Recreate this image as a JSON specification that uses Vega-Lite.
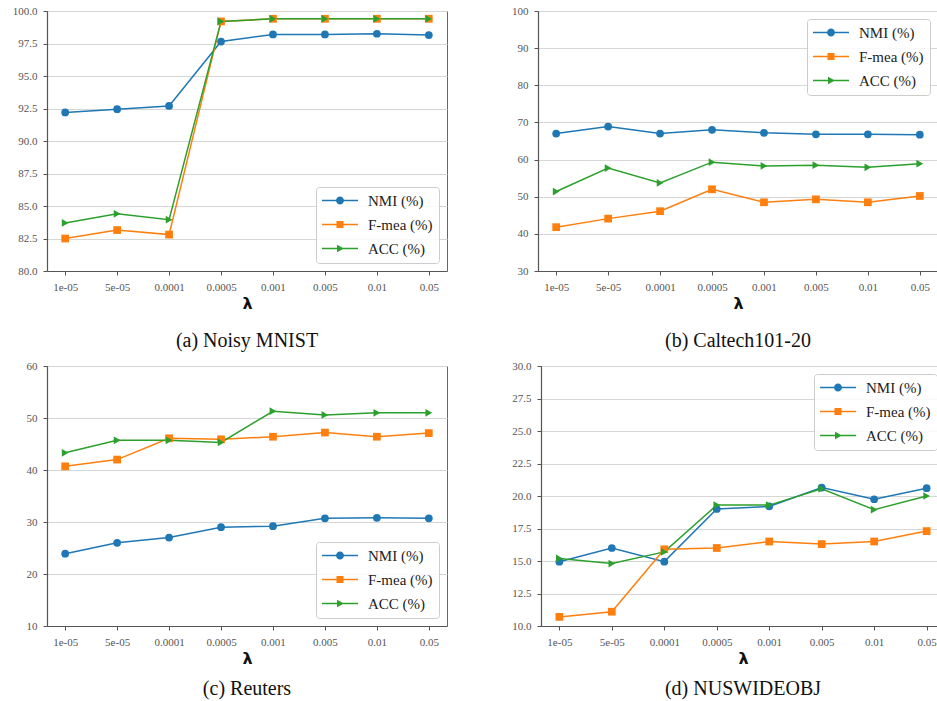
{
  "$schema": "https://vega.github.io/schema/vega-lite/v6.json",
  "padding": {"left": 11, "top": 4, "right": 0, "bottom": 0},
  "background": "white",
  "config": {
    "view": {"stroke": "#666666", "strokeWidth": 1},
    "axis": {
      "labelFont": "Times New Roman, Liberation Serif, serif", "labelFontSize": 11, "labelColor": "#555555",
      "tickColor": "#555555", "tickSize": 4, "labelPadding": 6,
      "domainColor": "#555555", "domainWidth": 1.2,
      "gridColor": "#d6d6d6", "gridWidth": 1,
      "titleFont": "DejaVu Sans", "titleFontSize": 16, "titleFontWeight": "bold", "titleColor": "#111111"
    },
    "axisX": {"grid": false, "labelAngle": 0, "titlePadding": 3},
    "axisY": {"grid": true},
    "title": {"orient": "bottom", "font": "Times New Roman, Liberation Serif, serif", "fontSize": 20, "fontWeight": "normal", "color": "#111111", "offset": 17, "anchor": "middle"}
  },
  "datasets": {
    "t": [
      {"p": "a", "l": "1e-05", "m": "NMI (%)", "v": 92.2},
      {"p": "a", "l": "5e-05", "m": "NMI (%)", "v": 92.45},
      {"p": "a", "l": "0.0001", "m": "NMI (%)", "v": 92.7},
      {"p": "a", "l": "0.0005", "m": "NMI (%)", "v": 97.65},
      {"p": "a", "l": "0.001", "m": "NMI (%)", "v": 98.2},
      {"p": "a", "l": "0.005", "m": "NMI (%)", "v": 98.2},
      {"p": "a", "l": "0.01", "m": "NMI (%)", "v": 98.25},
      {"p": "a", "l": "0.05", "m": "NMI (%)", "v": 98.15},
      {"p": "a", "l": "1e-05", "m": "F-mea (%)", "v": 82.5},
      {"p": "a", "l": "5e-05", "m": "F-mea (%)", "v": 83.15},
      {"p": "a", "l": "0.0001", "m": "F-mea (%)", "v": 82.8},
      {"p": "a", "l": "0.0005", "m": "F-mea (%)", "v": 99.2},
      {"p": "a", "l": "0.001", "m": "F-mea (%)", "v": 99.4},
      {"p": "a", "l": "0.005", "m": "F-mea (%)", "v": 99.4},
      {"p": "a", "l": "0.01", "m": "F-mea (%)", "v": 99.4},
      {"p": "a", "l": "0.05", "m": "F-mea (%)", "v": 99.4},
      {"p": "a", "l": "1e-05", "m": "ACC (%)", "v": 83.7},
      {"p": "a", "l": "5e-05", "m": "ACC (%)", "v": 84.4},
      {"p": "a", "l": "0.0001", "m": "ACC (%)", "v": 83.95},
      {"p": "a", "l": "0.0005", "m": "ACC (%)", "v": 99.2},
      {"p": "a", "l": "0.001", "m": "ACC (%)", "v": 99.4},
      {"p": "a", "l": "0.005", "m": "ACC (%)", "v": 99.4},
      {"p": "a", "l": "0.01", "m": "ACC (%)", "v": 99.4},
      {"p": "a", "l": "0.05", "m": "ACC (%)", "v": 99.4},

      {"p": "b", "l": "1e-05", "m": "NMI (%)", "v": 67.0},
      {"p": "b", "l": "5e-05", "m": "NMI (%)", "v": 68.9},
      {"p": "b", "l": "0.0001", "m": "NMI (%)", "v": 67.0},
      {"p": "b", "l": "0.0005", "m": "NMI (%)", "v": 68.0},
      {"p": "b", "l": "0.001", "m": "NMI (%)", "v": 67.2},
      {"p": "b", "l": "0.005", "m": "NMI (%)", "v": 66.8},
      {"p": "b", "l": "0.01", "m": "NMI (%)", "v": 66.8},
      {"p": "b", "l": "0.05", "m": "NMI (%)", "v": 66.7},
      {"p": "b", "l": "1e-05", "m": "F-mea (%)", "v": 41.8},
      {"p": "b", "l": "5e-05", "m": "F-mea (%)", "v": 44.1},
      {"p": "b", "l": "0.0001", "m": "F-mea (%)", "v": 46.1},
      {"p": "b", "l": "0.0005", "m": "F-mea (%)", "v": 52.0},
      {"p": "b", "l": "0.001", "m": "F-mea (%)", "v": 48.5},
      {"p": "b", "l": "0.005", "m": "F-mea (%)", "v": 49.3},
      {"p": "b", "l": "0.01", "m": "F-mea (%)", "v": 48.5},
      {"p": "b", "l": "0.05", "m": "F-mea (%)", "v": 50.2},
      {"p": "b", "l": "1e-05", "m": "ACC (%)", "v": 51.4},
      {"p": "b", "l": "5e-05", "m": "ACC (%)", "v": 57.7},
      {"p": "b", "l": "0.0001", "m": "ACC (%)", "v": 53.7},
      {"p": "b", "l": "0.0005", "m": "ACC (%)", "v": 59.3},
      {"p": "b", "l": "0.001", "m": "ACC (%)", "v": 58.3},
      {"p": "b", "l": "0.005", "m": "ACC (%)", "v": 58.5},
      {"p": "b", "l": "0.01", "m": "ACC (%)", "v": 57.9},
      {"p": "b", "l": "0.05", "m": "ACC (%)", "v": 58.9},

      {"p": "c", "l": "1e-05", "m": "NMI (%)", "v": 23.9},
      {"p": "c", "l": "5e-05", "m": "NMI (%)", "v": 26.0},
      {"p": "c", "l": "0.0001", "m": "NMI (%)", "v": 27.0},
      {"p": "c", "l": "0.0005", "m": "NMI (%)", "v": 29.0},
      {"p": "c", "l": "0.001", "m": "NMI (%)", "v": 29.2},
      {"p": "c", "l": "0.005", "m": "NMI (%)", "v": 30.7},
      {"p": "c", "l": "0.01", "m": "NMI (%)", "v": 30.8},
      {"p": "c", "l": "0.05", "m": "NMI (%)", "v": 30.7},
      {"p": "c", "l": "1e-05", "m": "F-mea (%)", "v": 40.7},
      {"p": "c", "l": "5e-05", "m": "F-mea (%)", "v": 42.0},
      {"p": "c", "l": "0.0001", "m": "F-mea (%)", "v": 46.1},
      {"p": "c", "l": "0.0005", "m": "F-mea (%)", "v": 45.9},
      {"p": "c", "l": "0.001", "m": "F-mea (%)", "v": 46.4},
      {"p": "c", "l": "0.005", "m": "F-mea (%)", "v": 47.2},
      {"p": "c", "l": "0.01", "m": "F-mea (%)", "v": 46.4},
      {"p": "c", "l": "0.05", "m": "F-mea (%)", "v": 47.1},
      {"p": "c", "l": "1e-05", "m": "ACC (%)", "v": 43.3},
      {"p": "c", "l": "5e-05", "m": "ACC (%)", "v": 45.7},
      {"p": "c", "l": "0.0001", "m": "ACC (%)", "v": 45.7},
      {"p": "c", "l": "0.0005", "m": "ACC (%)", "v": 45.3},
      {"p": "c", "l": "0.001", "m": "ACC (%)", "v": 51.3},
      {"p": "c", "l": "0.005", "m": "ACC (%)", "v": 50.6},
      {"p": "c", "l": "0.01", "m": "ACC (%)", "v": 51.0},
      {"p": "c", "l": "0.05", "m": "ACC (%)", "v": 51.0},

      {"p": "d", "l": "1e-05", "m": "NMI (%)", "v": 14.95},
      {"p": "d", "l": "5e-05", "m": "NMI (%)", "v": 16.0},
      {"p": "d", "l": "0.0001", "m": "NMI (%)", "v": 14.95},
      {"p": "d", "l": "0.0005", "m": "NMI (%)", "v": 19.0},
      {"p": "d", "l": "0.001", "m": "NMI (%)", "v": 19.2},
      {"p": "d", "l": "0.005", "m": "NMI (%)", "v": 20.65},
      {"p": "d", "l": "0.01", "m": "NMI (%)", "v": 19.75},
      {"p": "d", "l": "0.05", "m": "NMI (%)", "v": 20.6},
      {"p": "d", "l": "1e-05", "m": "F-mea (%)", "v": 10.7},
      {"p": "d", "l": "5e-05", "m": "F-mea (%)", "v": 11.1},
      {"p": "d", "l": "0.0001", "m": "F-mea (%)", "v": 15.9},
      {"p": "d", "l": "0.0005", "m": "F-mea (%)", "v": 16.0},
      {"p": "d", "l": "0.001", "m": "F-mea (%)", "v": 16.5},
      {"p": "d", "l": "0.005", "m": "F-mea (%)", "v": 16.3},
      {"p": "d", "l": "0.01", "m": "F-mea (%)", "v": 16.5},
      {"p": "d", "l": "0.05", "m": "F-mea (%)", "v": 17.3},
      {"p": "d", "l": "1e-05", "m": "ACC (%)", "v": 15.2},
      {"p": "d", "l": "5e-05", "m": "ACC (%)", "v": 14.8},
      {"p": "d", "l": "0.0001", "m": "ACC (%)", "v": 15.7},
      {"p": "d", "l": "0.0005", "m": "ACC (%)", "v": 19.3},
      {"p": "d", "l": "0.001", "m": "ACC (%)", "v": 19.3},
      {"p": "d", "l": "0.005", "m": "ACC (%)", "v": 20.55},
      {"p": "d", "l": "0.01", "m": "ACC (%)", "v": 18.95},
      {"p": "d", "l": "0.05", "m": "ACC (%)", "v": 20.0}
    ]
  },
  "vconcat": [
    {
      "hconcat": [
        {
          "data": {"name": "t"},
          "width": 400, "height": 260,
          "title": {"text": "(a) Noisy MNIST", "offset": 20},
          "transform": [{"filter": "datum.p == 'a'"}],
          "encoding": {
            "x": {"field": "l", "type": "ordinal", "sort": ["1e-05", "5e-05", "0.0001", "0.0005", "0.001", "0.005", "0.01", "0.05"], "scale": {"type": "point", "padding": 0.35}, "axis": {"title": "λ"}},
            "y": {"field": "v", "type": "quantitative", "scale": {"domain": [80, 100], "nice": false, "zero": false}, "axis": {"title": null, "values": [80, 82.5, 85, 87.5, 90, 92.5, 95, 97.5, 100], "format": ".1f"}},
            "color": {"field": "m", "type": "nominal", "scale": {"domain": ["NMI (%)", "F-mea (%)", "ACC (%)"], "range": ["#1f77b4", "#ff7f0e", "#2ca02c"]},
              "legend": {"title": null, "orient": "bottom-right", "offset": 8, "fillColor": "rgba(255,255,255,0.85)", "strokeColor": "#cccccc", "cornerRadius": 3, "padding": 6, "rowPadding": 8, "labelFont": "Times New Roman, Liberation Serif, serif", "labelFontSize": 15, "labelColor": "#222222", "labelAlign": "left", "symbolSize": 100, "symbolOffset": 13, "labelOffset": 36, "symbolStrokeWidth": 0,
                "encode": {
                  "labels": {"update": {"align": {"value": "left"}, "x": {"value": 46}}},
                  "symbols": {"update": {
                  "shape": {"signal": "datum.value == 'NMI (%)' ? 'M-3.6,-0.15H3.6V0.15H-3.6Z M0.8,0A0.8,0.8 0 1,1 -0.8,0A0.8,0.8 0 1,1 0.8,0Z' : datum.value == 'F-mea (%)' ? 'M-3.6,-0.15H3.6V0.15H-3.6Z M-0.7,-0.7H0.7V0.7H-0.7Z' : 'M-3.6,-0.15H3.6V0.15H-3.6Z M-0.6,-0.75L0.8,0L-0.6,0.75Z'"},
                  "fill": {"signal": "datum.value == 'NMI (%)' ? '#1f77b4' : datum.value == 'F-mea (%)' ? '#ff7f0e' : '#2ca02c'"},
                  "stroke": {"value": "transparent"},
                  "x": {"value": 18},
                  "opacity": {"value": 1}}}}}}
          },
          "layer": [
            {"mark": {"type": "line", "strokeWidth": 1.5}},
            {"mark": {"type": "point", "filled": true, "size": 60, "opacity": 1}, "encoding": {"shape": {"field": "m", "type": "nominal", "scale": {"domain": ["NMI (%)", "F-mea (%)", "ACC (%)"], "range": ["circle", "square", "triangle-right"]}, "legend": null}}}
          ]
        },
        {
          "data": {"name": "t"},
          "width": 400, "height": 260,
          "title": {"text": "(b) Caltech101-20", "offset": 20},
          "transform": [{"filter": "datum.p == 'b'"}],
          "encoding": {
            "x": {"field": "l", "type": "ordinal", "sort": ["1e-05", "5e-05", "0.0001", "0.0005", "0.001", "0.005", "0.01", "0.05"], "scale": {"type": "point", "padding": 0.35}, "axis": {"title": "λ"}},
            "y": {"field": "v", "type": "quantitative", "scale": {"domain": [30, 100], "nice": false, "zero": false}, "axis": {"title": null, "values": [30, 40, 50, 60, 70, 80, 90, 100]}},
            "color": {"field": "m", "type": "nominal", "scale": {"domain": ["NMI (%)", "F-mea (%)", "ACC (%)"], "range": ["#1f77b4", "#ff7f0e", "#2ca02c"]},
              "legend": {"title": null, "orient": "top-right", "offset": 8, "fillColor": "rgba(255,255,255,0.85)", "strokeColor": "#cccccc", "cornerRadius": 3, "padding": 6, "rowPadding": 8, "labelFont": "Times New Roman, Liberation Serif, serif", "labelFontSize": 15, "labelColor": "#222222", "labelAlign": "left", "symbolSize": 100, "symbolOffset": 13, "labelOffset": 36, "symbolStrokeWidth": 0,
                "encode": {
                  "labels": {"update": {"align": {"value": "left"}, "x": {"value": 46}}},
                  "symbols": {"update": {
                  "shape": {"signal": "datum.value == 'NMI (%)' ? 'M-3.6,-0.15H3.6V0.15H-3.6Z M0.8,0A0.8,0.8 0 1,1 -0.8,0A0.8,0.8 0 1,1 0.8,0Z' : datum.value == 'F-mea (%)' ? 'M-3.6,-0.15H3.6V0.15H-3.6Z M-0.7,-0.7H0.7V0.7H-0.7Z' : 'M-3.6,-0.15H3.6V0.15H-3.6Z M-0.6,-0.75L0.8,0L-0.6,0.75Z'"},
                  "fill": {"signal": "datum.value == 'NMI (%)' ? '#1f77b4' : datum.value == 'F-mea (%)' ? '#ff7f0e' : '#2ca02c'"},
                  "stroke": {"value": "transparent"},
                  "x": {"value": 18},
                  "opacity": {"value": 1}}}}}}
          },
          "layer": [
            {"mark": {"type": "line", "strokeWidth": 1.5}},
            {"mark": {"type": "point", "filled": true, "size": 60, "opacity": 1}, "encoding": {"shape": {"field": "m", "type": "nominal", "scale": {"domain": ["NMI (%)", "F-mea (%)", "ACC (%)"], "range": ["circle", "square", "triangle-right"]}, "legend": null}}}
          ]
        }
      ],
      "spacing": 63
    },
    {
      "hconcat": [
        {
          "data": {"name": "t"},
          "width": 400, "height": 260,
          "title": {"text": "(c) Reuters", "offset": 13},
          "transform": [{"filter": "datum.p == 'c'"}],
          "encoding": {
            "x": {"field": "l", "type": "ordinal", "sort": ["1e-05", "5e-05", "0.0001", "0.0005", "0.001", "0.005", "0.01", "0.05"], "scale": {"type": "point", "padding": 0.35}, "axis": {"title": "λ"}},
            "y": {"field": "v", "type": "quantitative", "scale": {"domain": [10, 60], "nice": false, "zero": false}, "axis": {"title": null, "values": [10, 20, 30, 40, 50, 60]}},
            "color": {"field": "m", "type": "nominal", "scale": {"domain": ["NMI (%)", "F-mea (%)", "ACC (%)"], "range": ["#1f77b4", "#ff7f0e", "#2ca02c"]},
              "legend": {"title": null, "orient": "bottom-right", "offset": 8, "fillColor": "rgba(255,255,255,0.85)", "strokeColor": "#cccccc", "cornerRadius": 3, "padding": 6, "rowPadding": 8, "labelFont": "Times New Roman, Liberation Serif, serif", "labelFontSize": 15, "labelColor": "#222222", "labelAlign": "left", "symbolSize": 100, "symbolOffset": 13, "labelOffset": 36, "symbolStrokeWidth": 0,
                "encode": {
                  "labels": {"update": {"align": {"value": "left"}, "x": {"value": 46}}},
                  "symbols": {"update": {
                  "shape": {"signal": "datum.value == 'NMI (%)' ? 'M-3.6,-0.15H3.6V0.15H-3.6Z M0.8,0A0.8,0.8 0 1,1 -0.8,0A0.8,0.8 0 1,1 0.8,0Z' : datum.value == 'F-mea (%)' ? 'M-3.6,-0.15H3.6V0.15H-3.6Z M-0.7,-0.7H0.7V0.7H-0.7Z' : 'M-3.6,-0.15H3.6V0.15H-3.6Z M-0.6,-0.75L0.8,0L-0.6,0.75Z'"},
                  "fill": {"signal": "datum.value == 'NMI (%)' ? '#1f77b4' : datum.value == 'F-mea (%)' ? '#ff7f0e' : '#2ca02c'"},
                  "stroke": {"value": "transparent"},
                  "x": {"value": 18},
                  "opacity": {"value": 1}}}}}}
          },
          "layer": [
            {"mark": {"type": "line", "strokeWidth": 1.5}},
            {"mark": {"type": "point", "filled": true, "size": 60, "opacity": 1}, "encoding": {"shape": {"field": "m", "type": "nominal", "scale": {"domain": ["NMI (%)", "F-mea (%)", "ACC (%)"], "range": ["circle", "square", "triangle-right"]}, "legend": null}}}
          ]
        },
        {
          "data": {"name": "t"},
          "width": 404, "height": 260,
          "title": {"text": "(d) NUSWIDEOBJ", "offset": 13},
          "transform": [{"filter": "datum.p == 'd'"}],
          "encoding": {
            "x": {"field": "l", "type": "ordinal", "sort": ["1e-05", "5e-05", "0.0001", "0.0005", "0.001", "0.005", "0.01", "0.05"], "scale": {"type": "point", "padding": 0.35}, "axis": {"title": "λ"}},
            "y": {"field": "v", "type": "quantitative", "scale": {"domain": [10, 30], "nice": false, "zero": false}, "axis": {"title": null, "values": [10, 12.5, 15, 17.5, 20, 22.5, 25, 27.5, 30], "format": ".1f"}},
            "color": {"field": "m", "type": "nominal", "scale": {"domain": ["NMI (%)", "F-mea (%)", "ACC (%)"], "range": ["#1f77b4", "#ff7f0e", "#2ca02c"]},
              "legend": {"title": null, "orient": "top-right", "offset": 8, "fillColor": "rgba(255,255,255,0.85)", "strokeColor": "#cccccc", "cornerRadius": 3, "padding": 6, "rowPadding": 8, "labelFont": "Times New Roman, Liberation Serif, serif", "labelFontSize": 15, "labelColor": "#222222", "labelAlign": "left", "symbolSize": 100, "symbolOffset": 13, "labelOffset": 36, "symbolStrokeWidth": 0,
                "encode": {
                  "labels": {"update": {"align": {"value": "left"}, "x": {"value": 46}}},
                  "symbols": {"update": {
                  "shape": {"signal": "datum.value == 'NMI (%)' ? 'M-3.6,-0.15H3.6V0.15H-3.6Z M0.8,0A0.8,0.8 0 1,1 -0.8,0A0.8,0.8 0 1,1 0.8,0Z' : datum.value == 'F-mea (%)' ? 'M-3.6,-0.15H3.6V0.15H-3.6Z M-0.7,-0.7H0.7V0.7H-0.7Z' : 'M-3.6,-0.15H3.6V0.15H-3.6Z M-0.6,-0.75L0.8,0L-0.6,0.75Z'"},
                  "fill": {"signal": "datum.value == 'NMI (%)' ? '#1f77b4' : datum.value == 'F-mea (%)' ? '#ff7f0e' : '#2ca02c'"},
                  "stroke": {"value": "transparent"},
                  "x": {"value": 18},
                  "opacity": {"value": 1}}}}}}
          },
          "layer": [
            {"mark": {"type": "line", "strokeWidth": 1.5}},
            {"mark": {"type": "point", "filled": true, "size": 60, "opacity": 1}, "encoding": {"shape": {"field": "m", "type": "nominal", "scale": {"domain": ["NMI (%)", "F-mea (%)", "ACC (%)"], "range": ["circle", "square", "triangle-right"]}, "legend": null}}}
          ]
        }
      ],
      "spacing": 63
    }
  ],
  "spacing": 7
}
